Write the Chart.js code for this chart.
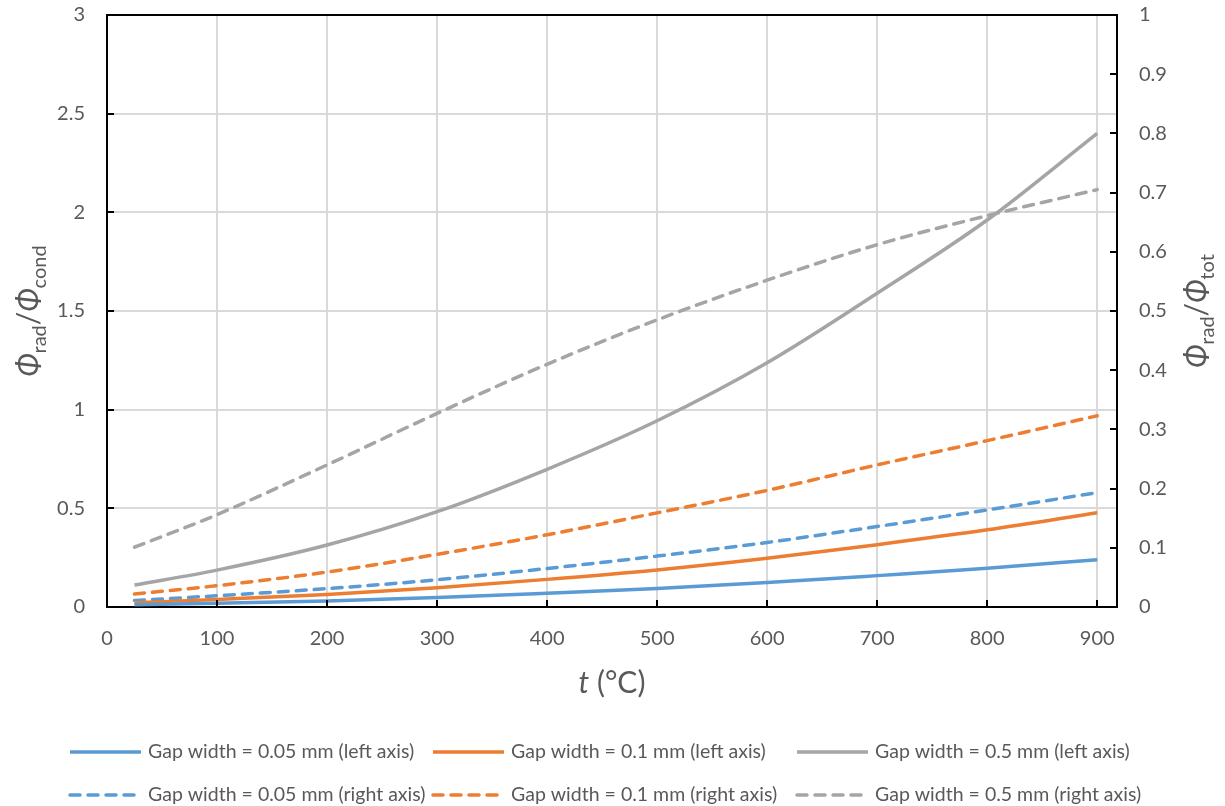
<!DOCTYPE html>
<html>
<head>
<meta charset="utf-8">
<script src="https://cdn.jsdelivr.net/npm/chart.js@4.4.1/dist/chart.umd.min.js"></script>
<style>
  html, body { margin: 0; padding: 0; background: #ffffff; overflow: hidden; }
  #wrap { width: 1225px; height: 806px; position: relative; }
</style>
</head>
<body>
<div id="wrap"><canvas id="chart" width="1225" height="806"></canvas></div>
<script>
// Temperature t (°C)
const temperatures = [25, 100, 200, 300, 400, 500, 600, 700, 800, 900];

// Φrad/Φcond (left axis)
const condGap005 = [0.011, 0.019, 0.031, 0.048, 0.070, 0.094, 0.124, 0.159, 0.196, 0.240];
const condGap01  = [0.022, 0.038, 0.063, 0.098, 0.140, 0.188, 0.247, 0.316, 0.391, 0.478];
const condGap05  = [0.111, 0.187, 0.314, 0.483, 0.698, 0.944, 1.238, 1.590, 1.961, 2.400];

// Φrad/Φtot (right axis)
const totGap005 = [0.011, 0.019, 0.031, 0.046, 0.065, 0.086, 0.109, 0.136, 0.164, 0.193];
const totGap01  = [0.022, 0.036, 0.059, 0.089, 0.122, 0.159, 0.197, 0.240, 0.281, 0.323];
const totGap05  = [0.101, 0.156, 0.240, 0.327, 0.410, 0.485, 0.552, 0.612, 0.661, 0.705];

const seriesLabels = [
  'Gap width = 0.05 mm (left axis)',
  'Gap width = 0.1 mm (left axis)',
  'Gap width = 0.5 mm (left axis)',
  'Gap width = 0.05 mm (right axis)',
  'Gap width = 0.1 mm (right axis)',
  'Gap width = 0.5 mm (right axis)'
];

const BLUE = '#5B9BD5', ORANGE = '#ED7D31', GRAY = '#A5A5A5';
const TEXT = '#595959';
const FONT = 'Lato, "Open Sans", sans-serif';
const DASH = [10, 8];
const LINE_W = 3.5;

function toPoints(values) {
  return values.map((v, i) => ({ x: temperatures[i], y: v }));
}

function series(label, values, color, axis, dashed) {
  return {
    label,
    data: toPoints(values),
    borderColor: color,
    backgroundColor: color,
    borderWidth: LINE_W,
    borderDash: dashed ? DASH : [],
    borderCapStyle: dashed ? 'round' : 'butt',
    pointRadius: 0,
    cubicInterpolationMode: 'monotone',
    fill: false,
    yAxisID: axis
  };
}

const datasets = [
  series(seriesLabels[0], condGap005, BLUE, 'yLeft', false),
  series(seriesLabels[1], condGap01, ORANGE, 'yLeft', false),
  series(seriesLabels[2], condGap05, GRAY, 'yLeft', false),
  series(seriesLabels[3], totGap005, BLUE, 'yRight', true),
  series(seriesLabels[4], totGap01, ORANGE, 'yRight', true),
  series(seriesLabels[5], totGap05, GRAY, 'yRight', true)
];

const plainNumber = v => String(+Number(v).toFixed(2));

// Draws a run of text pieces (italic symbols, subscripts) centred on (cx, cy)
function drawRichText(ctx, parts, cx, cy, angle) {
  const mainSize = 30, subSize = 20;
  const fontFor = p => (p.italic ? 'italic ' : '') + (p.sub ? subSize : mainSize) + 'px ' + FONT;
  let total = 0;
  const widths = parts.map(p => { ctx.font = fontFor(p); const w = ctx.measureText(p.text).width; total += w; return w; });
  ctx.save();
  ctx.translate(cx, cy);
  ctx.rotate(angle);
  ctx.fillStyle = TEXT;
  ctx.textBaseline = 'alphabetic';
  ctx.textAlign = 'left';
  let x = -total / 2;
  parts.forEach((p, i) => {
    ctx.font = fontFor(p);
    ctx.fillText(p.text, x, p.sub ? 17 : 10);
    x += widths[i];
  });
  ctx.restore();
}

const decorations = {
  id: 'decorations',
  afterDraw(chart) {
    const { ctx, chartArea: a, scales } = chart;
    ctx.save();
    // frame top edge
    ctx.strokeStyle = '#000';
    ctx.lineWidth = 2;
    ctx.beginPath();
    ctx.moveTo(a.left - 1, a.top);
    ctx.lineTo(a.right + 1, a.top);
    ctx.stroke();

    // inward tick marks
    const tick = 7;
    ctx.beginPath();
    scales.x.ticks.forEach(t => {
      const px = Math.round(scales.x.getPixelForValue(t.value));
      ctx.moveTo(px, a.bottom); ctx.lineTo(px, a.bottom - tick);
    });
    scales.yLeft.ticks.forEach(t => {
      const py = Math.round(scales.yLeft.getPixelForValue(t.value));
      ctx.moveTo(a.left, py); ctx.lineTo(a.left + tick, py);
    });
    scales.yRight.ticks.forEach(t => {
      const py = Math.round(scales.yRight.getPixelForValue(t.value));
      ctx.moveTo(a.right, py); ctx.lineTo(a.right - tick, py);
    });
    ctx.stroke();

    // axis titles
    const midY = (a.top + a.bottom) / 2;
    drawRichText(ctx, [
      { text: 'Φ', italic: true }, { text: 'rad', sub: true }, { text: '/' },
      { text: 'Φ', italic: true }, { text: 'cond', sub: true }
    ], 29, midY, -Math.PI / 2);
    drawRichText(ctx, [
      { text: 'Φ', italic: true }, { text: 'rad', sub: true }, { text: '/' },
      { text: 'Φ', italic: true }, { text: 'tot', sub: true }
    ], 1197, midY, -Math.PI / 2);
    drawRichText(ctx, [
      { text: 't', italic: true }, { text: ' (°C)' }
    ], (a.left + a.right) / 2, 683, 0);

    // legend: three aligned columns, two rows
    const cols = [70, 433, 797];
    const rows = [752, 795];
    const sampleLen = 71;
    ctx.font = '19.5px ' + FONT;
    ctx.textBaseline = 'middle';
    ctx.textAlign = 'left';
    chart.data.datasets.forEach((ds, i) => {
      const x = cols[i % 3], y = rows[Math.floor(i / 3)];
      ctx.strokeStyle = ds.borderColor;
      ctx.lineWidth = LINE_W;
      ctx.lineCap = ds.borderDash.length ? 'round' : 'butt';
      ctx.setLineDash(ds.borderDash);
      ctx.beginPath();
      ctx.moveTo(x, y); ctx.lineTo(x + sampleLen, y);
      ctx.stroke();
      ctx.setLineDash([]);
      ctx.fillStyle = TEXT;
      ctx.fillText(ds.label, x + sampleLen + 7, y);
    });
    ctx.restore();
  }
};

const tickFont = { family: FONT, size: 20 };

new Chart(document.getElementById('chart'), {
  type: 'line',
  data: { datasets },
  plugins: [decorations],
  options: {
    responsive: false,
    animation: false,
    devicePixelRatio: 1,
    layout: { padding: { top: 15, left: 0, right: 0, bottom: 0 } },
    plugins: { legend: { display: false }, tooltip: { enabled: false } },
    scales: {
      x: {
        type: 'linear',
        min: 0,
        max: 918,
        afterFit: s => { s.height = 199; s.paddingLeft = 0; s.paddingRight = 0; },
        ticks: { stepSize: 100, includeBounds: false, padding: 20, color: TEXT, font: tickFont, callback: plainNumber },
        grid: { color: '#D9D9D9', lineWidth: 2, drawTicks: false },
        border: { display: true, color: '#000', width: 2 }
      },
      yLeft: {
        type: 'linear',
        position: 'left',
        min: 0,
        max: 3,
        afterFit: s => { s.width = 107; s.paddingTop = 0; s.paddingBottom = 0; },
        ticks: { stepSize: 0.5, padding: 22, color: TEXT, font: tickFont, callback: plainNumber },
        grid: { color: '#D9D9D9', lineWidth: 2, drawTicks: false },
        border: { display: true, color: '#000', width: 2 }
      },
      yRight: {
        type: 'linear',
        position: 'right',
        min: 0,
        max: 1,
        afterFit: s => { s.width = 108; s.paddingTop = 0; s.paddingBottom = 0; },
        ticks: { stepSize: 0.1, padding: 22, color: TEXT, font: tickFont, callback: plainNumber },
        grid: { drawOnChartArea: false, drawTicks: false },
        border: { display: true, color: '#000', width: 2 }
      }
    }
  }
});
</script>
</body>
</html>
